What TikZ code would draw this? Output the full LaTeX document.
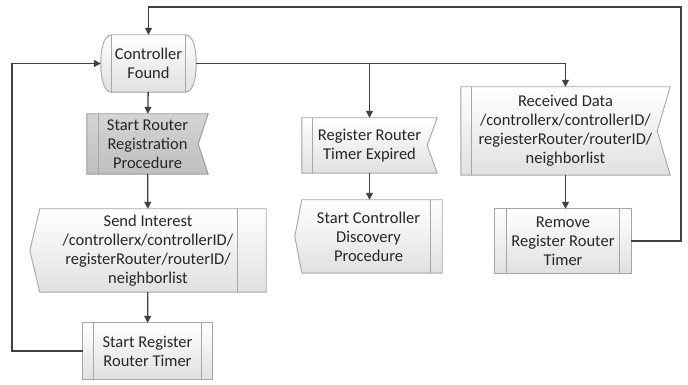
\documentclass[tikz,border=0pt]{standalone}
\usepackage{fontspec}
\setmainfont{Carlito}
\usepackage{tikz}
\usetikzlibrary{arrows.meta,backgrounds}

\tikzset{
  txt/.style={font=\fontsize{16.5}{19}\selectfont, text=black!85, align=center, inner sep=0pt},
  line/.style={draw=black!75, line width=1.3pt},
  edge/.style={line, -{Triangle[length=7pt,width=7pt]}},
  outline/.style={draw=black!35, line width=0.9pt, top color=white, bottom color=black!12},
  darkfill/.style={draw=black!40, line width=0.9pt, top color=black!17, bottom color=black!25},
  inner/.style={draw=black!35, line width=0.9pt},
}

\begin{document}
\begin{tikzpicture}[x=1pt,y=1pt]
\useasboundingbox (0,0) rectangle (688,385);

\node[txt, minimum width=95pt, minimum height=57pt] (found) at (148.5,321.5) {Controller\\Found};
\node[txt, minimum width=121pt, minimum height=60pt] (reg) at (147.5,241) {Start Router\\Registration\\Procedure};
\node[txt, minimum width=236pt, minimum height=83pt] (send) at (148,134.5) {Send Interest\\/controllerx/controllerID/\\registerRouter/routerID/\\neighborlist};
\node[txt, minimum width=129pt, minimum height=56pt] (timer) at (147.5,34) {Start Register\\Router Timer};
\node[txt, minimum width=135pt, minimum height=55pt] (expired) at (369.5,239.5) {Register Router\\Timer Expired};
\node[txt, minimum width=147pt, minimum height=73pt] (discovery) at (368.5,148.5) {Start Controller\\Discovery\\Procedure};
\node[txt, minimum width=209pt, minimum height=88pt] (recv) at (565.5,254) {Received Data\\/controllerx/controllerID/\\regiesterRouter/routerID/\\neighborlist};
\node[txt, minimum width=136pt, minimum height=64pt] (remove) at (563,144) {Remove\\Register Router\\Timer};

\coordinate (topr) at (681,378);
\coordinate (left) at (12,34);

% box outlines behind the text
\begin{scope}[on background layer]
\fill[white] (0,0) rectangle (688,385);
\draw[outline] ([xshift=11pt]found.north west) -- ([xshift=-11pt]found.north east)
  .. controls ([xshift=-3pt]found.north east) and ([yshift=15pt]found.east) .. (found.east)
  .. controls ([yshift=-15pt]found.east) and ([xshift=-3pt]found.south east) .. ([xshift=-11pt]found.south east)
  -- ([xshift=11pt]found.south west)
  .. controls ([xshift=3pt]found.south west) and ([yshift=-15pt]found.west) .. (found.west)
  .. controls ([yshift=15pt]found.west) and ([xshift=3pt]found.north west) .. cycle;
\draw[inner] ([xshift=11pt]found.north west) -- ([xshift=11pt]found.south west);
\draw[inner] ([xshift=-11pt]found.north east) -- ([xshift=-11pt]found.south east);

\draw[darkfill] (reg.north west) -- (reg.north east) -- ([xshift=-10pt]reg.east) -- (reg.south east) -- (reg.south west) -- cycle;
\draw[inner] ([xshift=12pt]reg.north west) -- ([xshift=12pt]reg.south west);

\draw[outline] ([xshift=10pt]send.north west) -- (send.north east) -- (send.south east) -- ([xshift=10pt]send.south west) -- (send.west) -- cycle;
\draw[inner] ([xshift=-29pt]send.north east) -- ([xshift=-29pt]send.south east);

\draw[outline] (timer.north west) rectangle (timer.south east);
\draw[inner] ([xshift=11pt]timer.north west) -- ([xshift=11pt]timer.south west);
\draw[inner] ([xshift=-11pt]timer.north east) -- ([xshift=-11pt]timer.south east);

\draw[outline] (expired.north west) -- (expired.north east) -- ([xshift=-10pt]expired.east) -- (expired.south east) -- (expired.south west) -- cycle;
\draw[inner] ([xshift=11pt]expired.north west) -- ([xshift=11pt]expired.south west);

\draw[outline] ([xshift=7pt]discovery.north west) -- (discovery.north east) -- (discovery.south east) -- ([xshift=7pt]discovery.south west) -- (discovery.west) -- cycle;
\draw[inner] ([xshift=-12pt]discovery.north east) -- ([xshift=-12pt]discovery.south east);

\draw[outline] (recv.north west) -- (recv.north east) -- ([xshift=-13pt]recv.east) -- (recv.south east) -- (recv.south west) -- cycle;
\draw[inner] ([xshift=11pt]recv.north west) -- ([xshift=11pt]recv.south west);

\draw[outline] (remove.north west) rectangle (remove.south east);
\draw[inner] ([xshift=12pt]remove.north west) -- ([xshift=12pt]remove.south west);
\draw[inner] ([xshift=-12pt]remove.north east) -- ([xshift=-12pt]remove.south east);
\end{scope}

% connectors
\draw[edge] (found) -- (reg);
\draw[edge] (reg) -- (send);
\draw[edge] (send) -- (timer);
\draw[edge] (timer.west) -- (left) |- (found.west);
\draw[edge] (found.east) -| (recv.north);
\draw[edge] (expired.north |- found.east) -- (expired.north);
\draw[edge] (expired.south) -- (expired.south |- discovery.north);
\draw[edge] (recv) -- (recv.south |- remove.north);
\draw[edge] (remove.east) -| (topr) -| (found.north);
\end{tikzpicture}
\end{document}
